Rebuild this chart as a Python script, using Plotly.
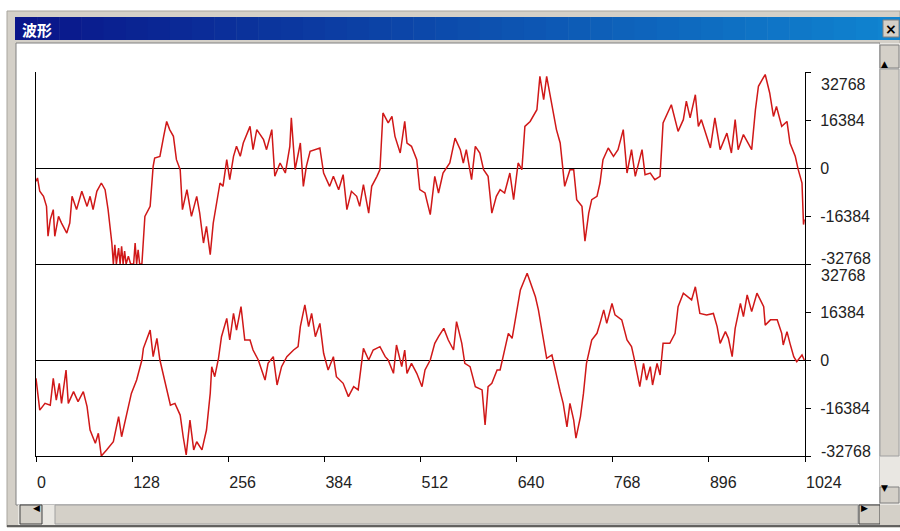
import plotly.graph_objects as go

# ---- waveform data (sample index, amplitude) ----
top_idx = [0, 2, 5, 10, 14, 16, 19, 23, 25, 30,
           34, 41, 45, 48, 54, 61, 68, 72, 76, 81,
           87, 92, 96, 101, 103, 105, 107, 110, 112, 114,
           116, 118, 120, 123, 126, 130, 132, 134, 136, 138,
           141, 143, 145, 152, 154, 156, 158, 165, 170, 174,
           178, 183, 187, 192, 195, 201, 207, 214, 218, 223,
           227, 232, 236, 241, 245, 249, 254, 258, 263, 267,
           272, 276, 285, 289, 294, 303, 307, 314, 318, 325,
           332, 338, 340, 345, 352, 356, 360, 365, 378, 383,
           391, 396, 403, 409, 414, 420, 427, 431, 436, 443,
           447, 454, 458, 462, 469, 474, 478, 485, 491, 494,
           500, 507, 511, 518, 525, 531, 536, 542, 551, 558,
           565, 569, 573, 580, 585, 591, 596, 602, 607, 613,
           618, 624, 631, 636, 642, 647, 651, 658, 667, 671,
           676, 680, 687, 693, 698, 702, 704, 711, 716, 720,
           727, 731, 736, 740, 747, 751, 755, 762, 769, 775,
           782, 787, 793, 798, 807, 811, 818, 824, 831, 835,
           846, 855, 862, 866, 871, 878, 882, 886, 893, 898,
           904, 911, 920, 926, 931, 935, 942, 953, 958, 962,
           971, 977, 982, 986, 993, 1000, 1004, 1011, 1015, 1020,
           1022, 1023]
top_val = [-4550, -3410, -7960, -9670, -13100, -23300, -17600, -14200, -23300, -16500,
           -18800, -22200, -18800, -9670, -14200, -7960, -13100, -9670, -14200, -7960,
           -5120, -7400, -14200, -25600, -32768, -26200, -32768, -27300, -32768, -26700,
           -32768, -28400, -32768, -30100, -32768, -32768, -25600, -32768, -27900, -32768,
           -32768, -24500, -16500, -13100, -6260, 570, 3410, 3980, 10800, 15900,
           13100, 10800, 2840, -570, -14200, -7400, -16500, -9670, -15400, -25600,
           -19900, -29600, -18800, -11900, -5120, -6260, 2840, -3980, 3980, 7400,
           3980, 8530, 14200, 6260, 13100, 9670, 6260, 13100, -2840, 1710,
           -1710, 7400, 17100, -570, 8530, -6260, 570, 5690, 6830, -1710,
           -6260, -2840, -7400, -2280, -14200, -7960, -9670, -13100, -5690, -15400,
           -6260, -2840, -570, 18800, 15400, 17600, 10800, 5120, 15900, 8530,
           7400, 2840, -7400, -8530, -15900, -2840, -8530, -1710, 1710, 10200,
           6260, 1710, 6260, -3980, 7400, 5120, -570, -2840, -15400, -9670,
           -7400, -8530, -1710, -10800, 1710, -570, 14200, 15900, 19900, 31300,
           23300, 31300, 21000, 13100, 8530, -570, -6260, -570, -570, -10800,
           -13100, -25000, -15400, -10800, -9670, -5120, 2840, 6830, 3980, 6260,
           13100, -1710, 6260, -2840, 6260, -2280, -1710, -3980, -2840, 15400,
           21600, 12500, 16500, 22800, 17100, 25000, 14200, 16500, 10800, 6830,
           17100, 6260, 11900, 5120, 16500, 6260, 11400, 6260, 19900, 27900,
           31900, 25600, 17600, 21000, 14200, 15900, 8530, 3980, -570, -5120,
           -19300, -17500]

bot_idx = [0, 5, 12, 19, 23, 27, 31, 34, 40, 43,
           50, 56, 63, 68, 72, 79, 83, 87, 94, 103,
           110, 114, 121, 127, 134, 141, 143, 152, 156, 161,
           165, 172, 179, 185, 192, 196, 200, 205, 210, 214,
           221, 227, 232, 234, 238, 243, 247, 254, 258, 263,
           267, 273, 278, 285, 289, 296, 305, 309, 316, 321,
           327, 334, 343, 349, 352, 358, 363, 367, 372, 378,
           383, 389, 396, 400, 409, 416, 423, 429, 436, 443,
           449, 458, 465, 469, 476, 480, 487, 491, 494, 500,
           507, 514, 518, 525, 531, 536, 543, 549, 556, 560,
           567, 571, 578, 585, 594, 598, 602, 607, 614, 618,
           622, 629, 634, 638, 645, 654, 660, 665, 669, 674,
           680, 687, 693, 698, 702, 707, 711, 716, 719, 725,
           729, 733, 740, 747, 751, 756, 760, 767, 771, 780,
           787, 793, 796, 800, 804, 809, 813, 818, 821, 827,
           831, 835, 844, 851, 855, 862, 867, 873, 878, 884,
           893, 902, 907, 911, 918, 922, 927, 931, 938, 942,
           947, 953, 960, 964, 969, 971, 978, 987, 993, 995,
           1000, 1004, 1009, 1013, 1020, 1023]
bot_val = [-6260, -17100, -14800, -15400, -6260, -13700, -7960, -14800, -3410, -14800,
           -10800, -14200, -10800, -15900, -23900, -28400, -25000, -32768, -30700, -27900,
           -19300, -26200, -18200, -11400, -6830, 0, 3980, 10200, 1140, 7400,
           0, -7960, -15400, -14800, -18800, -26200, -32400, -20500, -30700, -27900,
           -30700, -23900, -11400, -2280, -5690, 570, 7960, 14200, 6830, 15900,
           10200, 18200, 6830, 6830, 3410, 0, -6830, -1140, 1140, -8530,
           -2280, 1140, 3410, 4550, 11400, 18800, 11400, 15900, 7960, 12500,
           2280, -3410, 1140, -5690, -7960, -12500, -9100, -10200, 3980, 0,
           3410, 4550, 1140, 0, -4550, 5120, -2280, 3410, -4550, -1140,
           -4550, -9100, -3410, 0, 5690, 7960, 10800, 6830, 3410, 13100,
           5690, -1140, -2280, -9100, -10200, -22200, -9100, -7960, -3410, -3410,
           1140, 9100, 7400, 13700, 23900, 29600, 25000, 21600, 17100, 10200,
           570, 1710, -5690, -10800, -14800, -22800, -14800, -20500, -26700, -19300,
           -11400, -1140, 6830, 9100, 12500, 17100, 12500, 19300, 15400, 13700,
           6830, 4550, 1140, -3410, -9100, -1140, -6830, -2280, -8530, -1140,
           -5120, 5690, 5690, 9100, 18200, 22800, 21600, 20500, 25000, 15900,
           15400, 15900, 11400, 5690, 9670, 7400, 1140, 10800, 19300, 14800,
           22200, 16500, 22800, 20500, 18200, 11900, 13700, 13700, 9100, 5120,
           9670, 5690, 1140, -570, 1710, 0]

x_ticks = [0, 128, 256, 384, 512, 640, 768, 896, 1024]
y_ticks = [32768, 16384, 0, -16384, -32768]
y_text = ['', '16384', '0', '-16384', '']

W, H = 900, 531
WAVE = '#D01818'
FONT = 'Liberation Sans, Arial, sans-serif'
FSIZE = 16


def px(x):
    return x / W


def py(y):
    return 1 - y / H


shapes = []


def rect(x0, y0, x1, y1, fill, line=None):
    shapes.append(dict(type='rect', xref='paper', yref='paper', layer='below',
                       x0=px(x0), x1=px(x1), y0=py(y1), y1=py(y0),
                       fillcolor=fill,
                       line=dict(width=1 if line else 0, color=line or fill)))


# ---- window chrome ----
rect(7, 11, 900, 527, '#D4D0C8', '#A8A59E')
# title bar gradient (navy -> light blue)
n = 40
c0, c1 = (0x0A, 0x16, 0x8A), (0x10, 0x84, 0xD0)
for i in range(n):
    t = i / (n - 1)
    c = tuple(int(a + (b - a) * t) for a, b in zip(c0, c1))
    x0 = 15 + (900 - 15) * i / n
    x1 = 15 + (900 - 15) * (i + 1) / n + 0.5
    rect(x0, 17, x1, 40, 'rgb(%d,%d,%d)' % c)
rect(883, 20, 899, 37, '#D4D0C8', '#808080')
# client area
rect(16, 43, 880, 505, '#FFFFFF', '#808080')
# vertical scrollbar
rect(880, 43, 900, 505, '#E9E7E2')
rect(880, 45, 899, 68, '#D4D0C8', '#808080')
rect(880, 69, 899, 456, '#D4D0C8', '#A0A0A0')
rect(880, 487, 899, 503, '#D4D0C8', '#808080')
# horizontal scrollbar
rect(18, 505, 880, 525, '#E9E7E2')
rect(20, 505, 42, 524, '#D4D0C8', '#404040')
rect(55, 505, 858, 524, '#D4D0C8', '#A0A0A0')
rect(859, 505, 880, 524, '#D4D0C8', '#404040')
rect(880, 505, 900, 525, '#D4D0C8')
shapes.append(dict(type='line', xref='paper', yref='paper', layer='below',
                   x0=px(7), x1=px(900), y0=py(526), y1=py(526),
                   line=dict(color='#404040', width=1.5)))

annotations = [
    dict(text='<b>波形</b>', xref='paper', yref='paper', x=px(20), y=py(29),
         xanchor='left', yanchor='middle', showarrow=False,
         font=dict(family='Noto Sans CJK SC', size=15, color='white')),
    dict(text='<b>×</b>', xref='paper', yref='paper', x=px(891), y=py(28.5),
         xanchor='center', yanchor='middle', showarrow=False,
         font=dict(family='DejaVu Sans', size=14, color='black')),
    dict(text='▲', xref='paper', yref='paper', x=px(889.5), y=py(57),
         showarrow=False, font=dict(family='DejaVu Sans', size=9, color='black')),
    dict(text='▼', xref='paper', yref='paper', x=px(889.5), y=py(495),
         showarrow=False, font=dict(family='DejaVu Sans', size=9, color='black')),
    dict(text='◀', xref='paper', yref='paper', x=px(31), y=py(515),
         showarrow=False, font=dict(family='DejaVu Sans', size=9, color='black')),
    dict(text='▶', xref='paper', yref='paper', x=px(869.5), y=py(515),
         showarrow=False, font=dict(family='DejaVu Sans', size=9, color='black')),
]

# edge labels of the two amplitude scales, nudged inside each panel
for yref, top_shift, bot_shift in (('y', -13, 6), ('y2', -11, 5)):
    for val, shift in ((32768, top_shift), (-32768, bot_shift)):
        annotations.append(dict(
            text=str(val), xref='paper', yref=yref, x=px(805), y=val,
            xshift=14, yshift=shift, xanchor='left', yanchor='middle',
            showarrow=False, font=dict(family=FONT, size=FSIZE, color='#222')))

fig = go.Figure()
fig.add_trace(go.Scatter(x=top_idx, y=top_val, xaxis='x2', yaxis='y',
                         mode='lines', line=dict(color=WAVE, width=1.5),
                         showlegend=False, hoverinfo='none'))
fig.add_trace(go.Scatter(x=bot_idx, y=bot_val, xaxis='x', yaxis='y2',
                         mode='lines', line=dict(color=WAVE, width=1.5),
                         showlegend=False, hoverinfo='none'))

dom_x = [px(36), px(805)]
yaxis_common = dict(range=[-32768, 32768], side='right', anchor='x',
                    tickvals=y_ticks, ticktext=y_text, ticks='outside',
                    ticklen=5, tickcolor='black', showline=True, mirror=True,
                    linecolor='black', linewidth=1, showgrid=False,
                    zeroline=True, zerolinecolor='black', zerolinewidth=1,
                    ticklabelstandoff=6, automargin=False, fixedrange=True,
                    tickfont=dict(family=FONT, size=FSIZE, color='#222'))

fig.update_layout(
    width=W, height=H,
    margin=dict(l=0, r=0, t=0, b=0),
    paper_bgcolor='white', plot_bgcolor='rgba(0,0,0,0)',
    xaxis=dict(domain=dom_x, anchor='y2', range=[0, 1024], tickvals=x_ticks,
               ticks='outside', ticklen=5, tickcolor='black', showline=True,
               linecolor='black', linewidth=1, showgrid=False, zeroline=False,
               ticklabelposition='outside right', ticklabelstandoff=12,
               automargin=False, fixedrange=True,
               tickfont=dict(family=FONT, size=FSIZE, color='#222')),
    xaxis2=dict(domain=dom_x, anchor='y', matches='x', range=[0, 1024],
                showticklabels=False, ticks='', showline=True,
                linecolor='black', linewidth=1, showgrid=False,
                zeroline=False, fixedrange=True),
    yaxis=dict(domain=[py(264), py(72)], **yaxis_common),
    yaxis2=dict(domain=[py(456), py(264)], **yaxis_common),
    shapes=shapes,
    annotations=annotations,
)

# the page's default body margin would shift the window picture by 8px
fig.write_html('out.html', config={'displayModeBar': False},
               post_script="document.body.style.margin='0';")
